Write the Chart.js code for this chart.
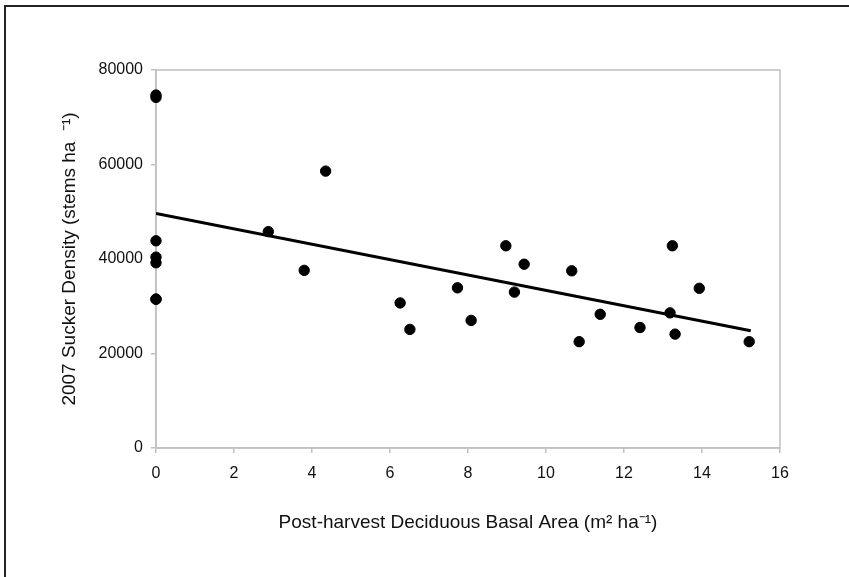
<!DOCTYPE html>
<html>
<head>
<meta charset="utf-8">
<script src="https://cdn.jsdelivr.net/npm/chart.js@4/dist/chart.umd.min.js"></script>
<style>
  html, body { margin: 0; padding: 0; background: #fff; overflow: hidden; }
  canvas { display: block; }
</style>
</head>
<body>
<canvas id="chart" width="849" height="577"></canvas>
<script>
// deciduous basal area (m2/ha) vs 2007 sucker density (stems/ha)
const basalArea = [0, 0, 0, 0, 0, 0, 0,
  2.88, 3.80, 4.35, 6.26, 6.51, 7.73, 8.08, 8.97, 9.19, 9.44,
  10.66, 10.85, 11.39, 12.41, 13.18, 13.24, 13.31, 13.93, 15.21];
const suckerDensity = [74700, 74200, 43850, 40400, 39200, 31500, 31500,
  45800, 37600, 58600, 30700, 25100, 33900, 27000, 42800, 33000, 38900,
  37500, 22500, 28300, 25500, 28600, 42800, 24100, 33800, 22500];

// fitted regression line end points
const trendX = [0, 15.25];
const trendY = [49650, 24800];

const xTitle = 'Post-harvest Deciduous Basal Area (m\u00B2 ha\u207B\u00B9)';
const yTitle = '2007 Sucker Density (stems ha  \u207B\u00B9)';

const axisGray = '#c0c0c0';
const FONT = "'Liberation Sans', Arial, sans-serif";

const framePlugin = {
  id: 'frame',
  beforeDraw(chart) {
    const ctx = chart.ctx;
    ctx.save();
    ctx.fillStyle = '#fff';
    ctx.fillRect(0, 0, chart.width, chart.height);
    // outer figure frame (only top and left visible)
    ctx.strokeStyle = '#222';
    ctx.lineWidth = 2;
    ctx.beginPath();
    ctx.moveTo(5, chart.height);
    ctx.lineTo(5, 6);
    ctx.lineTo(chart.width, 6);
    ctx.stroke();
    ctx.restore();
  },
  beforeDatasetsDraw(chart) {
    const { ctx, chartArea: a } = chart;
    ctx.save();
    ctx.strokeStyle = axisGray;
    ctx.lineWidth = 1.5;
    ctx.strokeRect(a.left, a.top, a.right - a.left, a.bottom - a.top);
    ctx.restore();
  }
};

new Chart(document.getElementById('chart'), {
  data: {
    datasets: [{
      type: 'scatter',
      data: basalArea.map((x, i) => ({ x, y: suckerDensity[i] })),
      backgroundColor: '#000',
      borderColor: '#000',
      pointRadius: 5.2,
      pointHoverRadius: 5.2,
      clip: false,
      order: 2,
    }, {
      type: 'line',
      data: trendX.map((x, i) => ({ x, y: trendY[i] })),
      borderColor: '#000',
      borderWidth: 3,
      pointRadius: 0,
      fill: false,
      order: 1,
    }],
  },
  options: {
    responsive: false,
    animation: false,
    events: [],
    layout: { padding: { left: 0, top: 70, right: 69, bottom: 0 } },
    plugins: { legend: { display: false }, tooltip: { enabled: false } },
    scales: {
      x: {
        type: 'linear',
        min: 0, max: 16,
        ticks: { stepSize: 2, color: '#111', padding: 11, font: { family: FONT, size: 16 },
                 callback: v => String(v) },
        grid: { drawOnChartArea: false, color: axisGray, tickLength: 5, lineWidth: 1.5 },
        border: { color: axisGray, width: 1.5 },
        title: { display: true, text: xTitle, color: '#111', padding: { top: 0, bottom: 43 },
                 font: { family: FONT, size: 19 } },
        afterFit(scale) { scale.height = 129; },
      },
      y: {
        min: 0, max: 80000,
        ticks: { stepSize: 20000, color: '#111', padding: 8, font: { family: FONT, size: 16 },
                 callback: v => String(v) },
        grid: { drawOnChartArea: false, color: axisGray, tickLength: 5, lineWidth: 1.5 },
        border: { color: axisGray, width: 1.5 },
        title: { display: true, text: yTitle, color: '#111', padding: { top: 58, bottom: 0 },
                 font: { family: FONT, size: 19 } },
        afterFit(scale) { scale.width = 156; },
      },
    },
  },
  plugins: [framePlugin],
});
</script>
</body>
</html>
